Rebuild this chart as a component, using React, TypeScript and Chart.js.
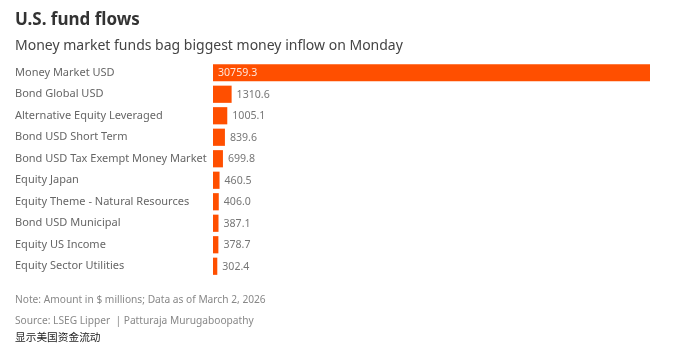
import React, { useEffect, useRef } from "react";
import { Chart, registerables } from "chart.js";

Chart.register(...registerables);

const categories = [
  "Money Market USD",
  "Bond Global USD",
  "Alternative Equity Leveraged",
  "Bond USD Short Term",
  "Bond USD Tax Exempt Money Market",
  "Equity Japan",
  "Equity Theme - Natural Resources",
  "Bond USD Municipal",
  "Equity US Income",
  "Equity Sector Utilities",
];
const flows = [30759.3, 1310.6, 1005.1, 839.6, 699.8, 460.5, 406.0, 387.1, 378.7, 302.4];

const FONT = "'Noto Sans', sans-serif";
const BAR = "#ff4f00";

const valueLabels = {
  id: "valueLabels",
  afterDatasetsDraw(chart: any) {
    const ctx = chart.ctx;
    const meta = chart.getDatasetMeta(0);
    ctx.save();
    ctx.font = `10.6px ${FONT}`;
    ctx.textBaseline = "middle";
    ctx.textAlign = "left";
    meta.data.forEach((bar: any, i: number) => {
      const v = flows[i];
      const txt = v.toFixed(1);
      const w = ctx.measureText(txt).width;
      const inside = bar.x - bar.base > w + 12;
      if (inside) {
        ctx.fillStyle = "rgba(255,255,255,0.85)";
        ctx.fillText(txt, bar.base + 5, bar.y + 0.5);
      } else {
        ctx.fillStyle = "#777";
        ctx.fillText(txt, bar.x + 5, bar.y + 0.5);
      }
    });
    ctx.restore();
  },
};

export default function App() {
  const ref = useRef<HTMLCanvasElement>(null);
  useEffect(() => {
    if (!ref.current) return;
    const chart = new Chart(ref.current, {
      type: "bar",
      data: {
        labels: categories,
        datasets: [
          {
            data: flows,
            backgroundColor: BAR,
            borderWidth: 0,
            categoryPercentage: 0.8,
            barPercentage: 1,
          },
        ],
      },
      options: {
        indexAxis: "y",
        responsive: false,
        animation: false,
        layout: { padding: { top: 62, bottom: 70, left: 15, right: 37 } },
        plugins: { legend: { display: false }, tooltip: { enabled: false } },
        scales: {
          x: { display: false, min: 0, max: 30759.3 },
          y: {
            grid: { display: false },
            border: { display: false },
            ticks: {
              crossAlign: "far",
              color: "#666",
              font: { family: FONT, size: 11 },
              padding: 0,
            },
            afterFit(scale: any) {
              scale.width = 198;
            },
          },
        },
      },
      plugins: [valueLabels],
    });
    return () => chart.destroy();
  }, []);

  const base: React.CSSProperties = { position: "absolute", left: 15, margin: 0, whiteSpace: "nowrap", fontFamily: FONT };
  return (
    <div style={{ position: "absolute", left: 0, top: 0, width: 687, height: 347, background: "#fff", overflow: "hidden" }}>
      <canvas ref={ref} width={687} height={347} style={{ position: "absolute", left: 0, top: 0, width: 687, height: 347 }} />
      <div style={{ ...base, top: 7, fontSize: 17, fontWeight: 700, color: "#333" }}>U.S. fund flows</div>
      <div style={{ ...base, top: 35, fontSize: 14, color: "#444" }}>Money market funds bag biggest money inflow on Monday</div>
      <div style={{ ...base, top: 292, fontSize: 10.2, color: "#888" }}>Note: Amount in $ millions; Data as of March 2, 2026</div>
      <div style={{ ...base, top: 313, fontSize: 10.2, color: "#888" }}>Source: LSEG Lipper &nbsp;| Patturaja Murugaboopathy</div>
      <div style={{ ...base, top: 329, fontSize: 10.7, color: "#222", fontFamily: "'Noto Sans CJK SC', sans-serif" }}>显示美国资金流动</div>
    </div>
  );
}
